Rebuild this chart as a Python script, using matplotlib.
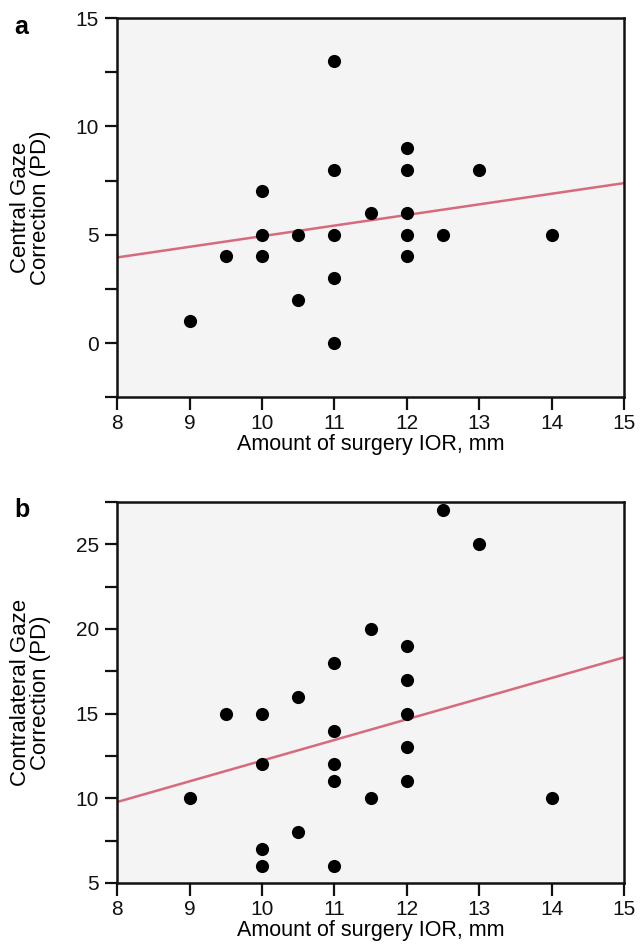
import matplotlib
matplotlib.use("Agg")
import matplotlib.pyplot as plt
import numpy as np
from matplotlib.ticker import MultipleLocator

plt.rcParams['font.family'] = ['Liberation Sans', 'DejaVu Sans']

# Panel a: central gaze correction
xa = [9, 9.5, 10, 10, 10, 10.5, 10.5, 11, 11, 11, 11, 11, 11.5, 12, 12, 12, 12, 12, 12.5, 13, 14]
ya = [1, 4, 7, 5, 4, 5, 2, 13, 8, 5, 3, 0, 6, 9, 8, 6, 5, 4, 5, 8, 5]
fit_a_x = [8, 15]
fit_a_y = [3.95, 7.38]

# Panel b: contralateral gaze correction
xb = [9, 9.5, 10, 10, 10, 10, 10.5, 10.5, 11, 11, 11, 11, 11, 11.5, 11.5, 12, 12, 12, 12, 12, 12.5, 13, 14]
yb = [10, 15, 15, 12, 7, 6, 16, 8, 18, 14, 12, 11, 6, 20, 10, 19, 17, 15, 13, 11, 27, 25, 10]
fit_b_x = [8, 15]
fit_b_y = [9.78, 18.32]

xticks = [8, 9, 10, 11, 12, 13, 14, 15]
xlabel = "Amount of surgery IOR, mm"

fig = plt.figure(figsize=(6.4, 9.48), dpi=100)

LINE_COLOR = '#d76a7c'

def style(ax, ylim, yticks, ylabel):
    ax.set_facecolor('#f4f4f4')
    ax.set_xlim(8, 15)
    ax.set_ylim(*ylim)
    ax.set_xticks(xticks)
    ax.set_yticks(yticks)
    ax.yaxis.set_minor_locator(MultipleLocator(2.5))
    for s in ax.spines.values():
        s.set_linewidth(1.8)
        s.set_color('#111111')
    ax.tick_params(which='both', direction='out', length=9, width=1.6,
                   labelsize=15, colors='#111111')
    ax.tick_params(axis='x', pad=3)
    ax.tick_params(axis='y', pad=4)
    ax.set_xlabel(xlabel, fontsize=15.5, labelpad=1)
    ax.set_ylabel(ylabel, fontsize=16, linespacing=0.95)
    ax.yaxis.set_label_coords(-0.13, 0.5)

ax1 = fig.add_axes([0.183, 0.581, 0.792, 0.400])
ax1.plot(fit_a_x, fit_a_y, color=LINE_COLOR, lw=1.8, zorder=2)
ax1.scatter(xa, ya, s=90, color='black', zorder=3, linewidths=0)
style(ax1, (-2.5, 15), [0, 5, 10, 15], "Central Gaze\nCorrection (PD)")
fig.text(0.023, 0.972, "a", fontsize=18, fontweight='bold', va='center')

ax2 = fig.add_axes([0.183, 0.0686, 0.792, 0.402])
ax2.plot(fit_b_x, fit_b_y, color=LINE_COLOR, lw=1.8, zorder=2)
ax2.scatter(xb, yb, s=90, color='black', zorder=3, linewidths=0)
style(ax2, (5, 27.5), [5, 10, 15, 20, 25], "Contralateral Gaze\nCorrection (PD)")
fig.text(0.023, 0.462, "b", fontsize=18, fontweight='bold', va='center')

fig.savefig("out.png", dpi=100)
